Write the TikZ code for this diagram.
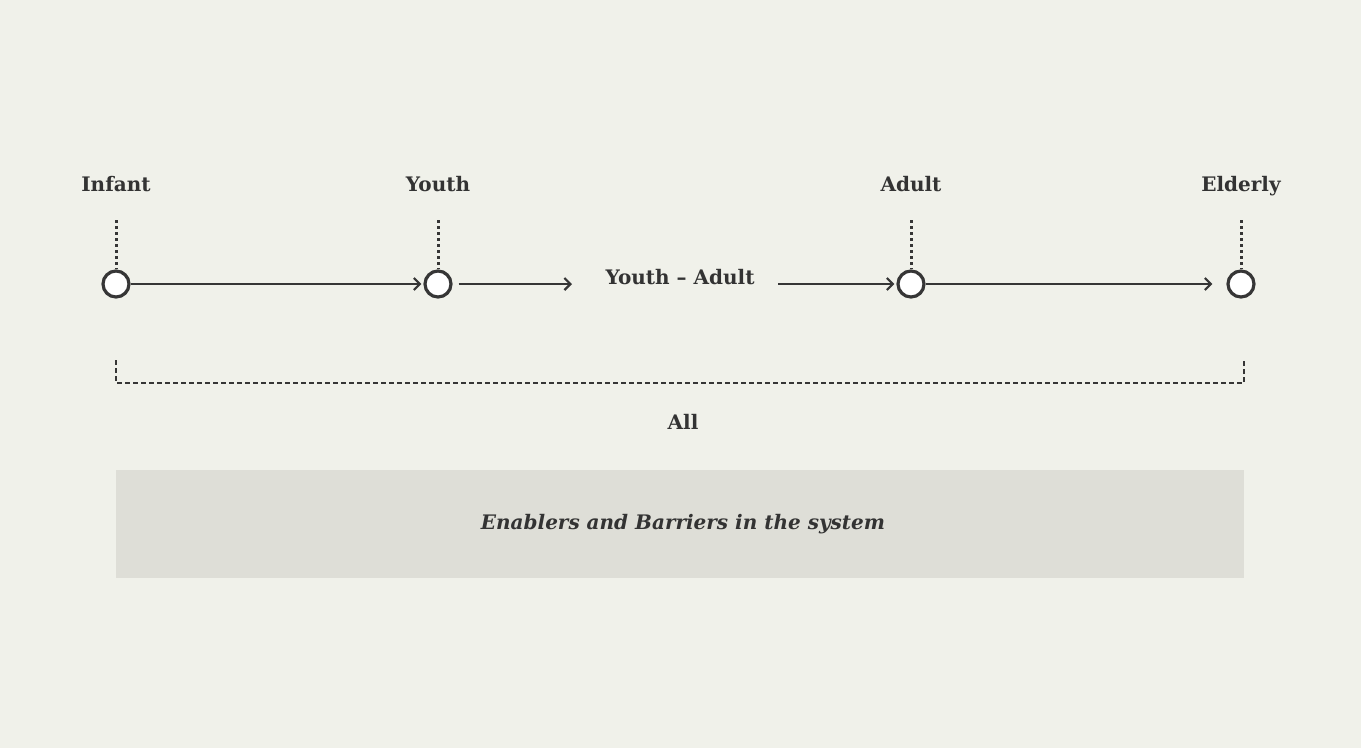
\documentclass[tikz,border=0pt]{standalone}
\usepackage{fontspec}
\setmainfont{DejaVu Serif}
\usetikzlibrary{arrows.meta}
\definecolor{bg}{HTML}{F0F1EA}
\definecolor{band}{HTML}{DEDED7}
\definecolor{ink}{HTML}{363636}
\definecolor{txt}{HTML}{333333}
\tikzset{
  stage/.style={circle, draw=ink, line width=3.2pt, fill=white, minimum size=26pt, inner sep=0pt},
  stagelabel/.style={text=txt, anchor=base, inner sep=0pt, font=\fontsize{20}{24}\selectfont\bfseries},
  flow/.style={draw=ink, line width=2.6pt, -{Straight Barb[length=6pt,width=12pt,line width=2.2pt]}},
  tick/.style={draw=ink, line width=3pt, dash pattern=on 3pt off 3pt},
  span/.style={draw=ink, line width=2.8pt, dash pattern=on 5pt off 3pt},
}
\begin{document}
\begin{tikzpicture}[x=1pt,y=-1pt]
  \fill[bg] (0,0) rectangle (1361,748);
  \useasboundingbox (0,0) rectangle (1361,748);

  % life stages
  \node[stage] (infant) at (116,284) {};
  \node[stage] (youth)  at (438,284) {};
  \node[stage] (adult)  at (911,284) {};
  \node[stage] (elder)  at (1241,284) {};

  \node[stagelabel] (linfant) at (116,191) {Infant};
  \node[stagelabel] (lyouth)  at (438,191) {Youth};
  \node[stagelabel] (ladult)  at (911,191) {Adult};
  \node[stagelabel] (lelder)  at (1241,191) {Elderly};

  % dotted ticks from labels down to circles
  \foreach \s/\x in {infant/116, youth/438, adult/911, elder/1241} {
    \coordinate (t\s) at (\x,220);
    \draw[tick] (t\s) -- (\s.north);
  }

  % transition label
  \node[stagelabel] (trans) at (680,284) {Youth – Adult};
  \coordinate (tin)  at (572,284);
  \coordinate (tout) at (778,284);

  % flow arrows
  \draw[flow] (infant.east) -- ([xshift=-2pt]youth.west);
  \draw[flow] ([xshift=6pt]youth.east) -- (tin);
  \draw[flow] (tout) -- ([xshift=-2pt]adult.west);
  \draw[flow] (adult.east) -- ([xshift=-14pt]elder.west);

  % span over all stages
  \coordinate (sa) at (116,360);
  \coordinate (sb) at (116,383);
  \coordinate (sc) at (1244,383);
  \coordinate (sd) at (1244,360);
  \draw[span] (sa) -- (sb) -- (sc) -- (sd);
  \node[stagelabel] (all) at (683,429) {All};

  % system band
  \fill[band] (116,470) rectangle (1244,578);
  \node[stagelabel, font=\fontsize{20}{24}\selectfont\bfseries\itshape] (sys) at (683,529)
        {Enablers and Barriers in the system};
\end{tikzpicture}
\end{document}
